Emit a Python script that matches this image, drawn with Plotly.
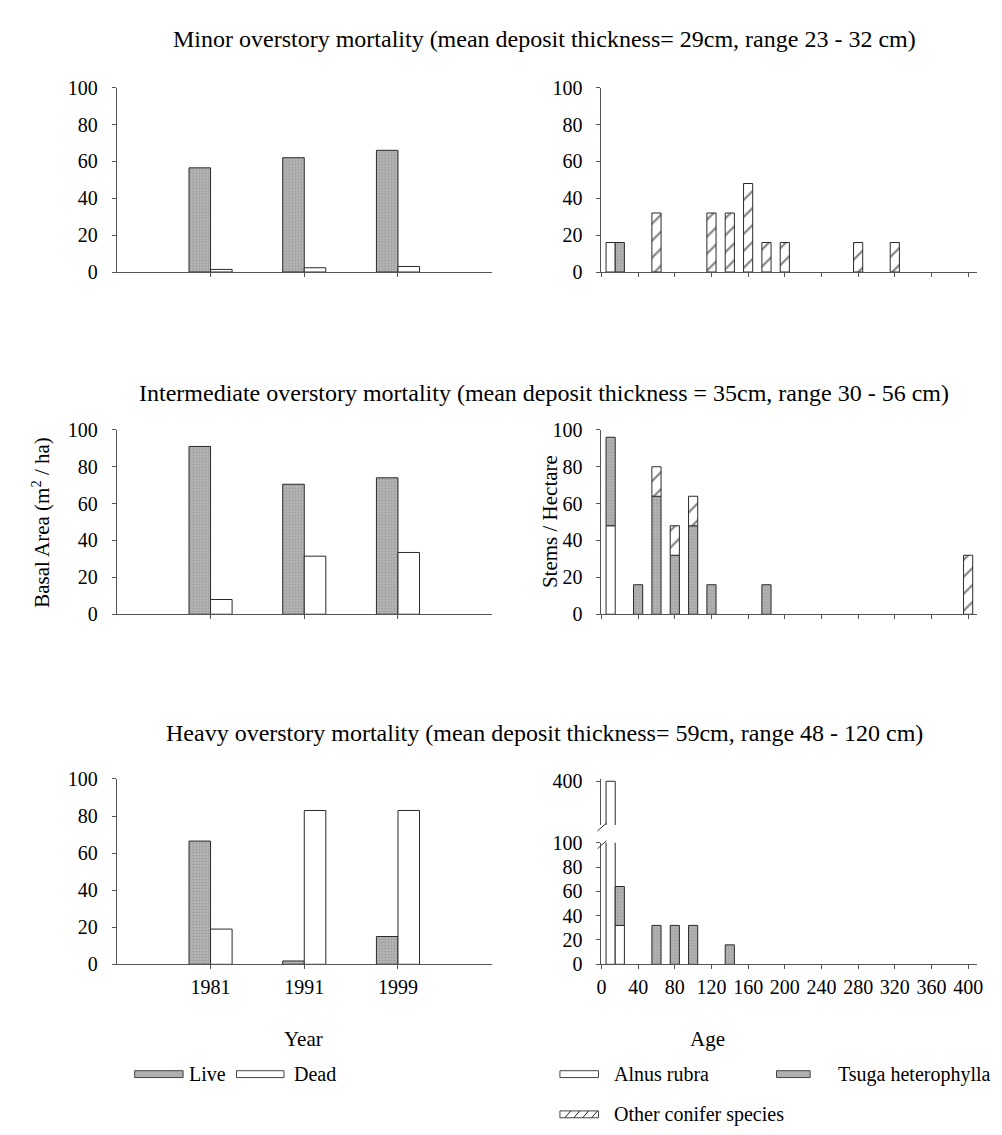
import plotly.graph_objects as go

# ---------------- data ----------------
years = ["1981", "1991", "1999"]
year_pos = [1, 2, 3]
minor_live = [56.5, 62, 66]
minor_dead = [1.4, 2.3, 3]
inter_live = [91, 70.5, 74]
inter_dead = [8, 31.5, 33.5]
heavy_live = [66.5, 1.8, 15]
heavy_dead = [19, 83, 83]

minor_ages = [10, 20, 60, 120, 140, 160, 180, 200, 280, 320]
minor_alnus = [16, 0, 0, 0, 0, 0, 0, 0, 0, 0]
minor_tsuga = [0, 16, 0, 0, 0, 0, 0, 0, 0, 0]
minor_other = [0, 0, 32, 32, 32, 48, 16, 16, 16, 16]

inter_ages = [10, 40, 60, 80, 100, 120, 180, 400]
inter_alnus = [48, 0, 0, 0, 0, 0, 0, 0]
inter_tsuga = [48, 16, 64, 32, 48, 16, 16, 0]
inter_other = [0, 0, 16, 16, 16, 0, 0, 32]

heavy_ages = [10, 20, 60, 80, 100, 140]
heavy_alnus = [400, 32, 0, 0, 0, 0]
heavy_tsuga = [0, 32, 32, 32, 32, 16]
heavy_other = [0, 0, 0, 0, 0, 0]

basal_ticks = [0, 20, 40, 60, 80, 100]
age_ticks = [0, 40, 80, 120, 160, 200, 240, 280, 320, 360, 400]

titles = [
    "Minor overstory mortality (mean deposit thickness= 29cm, range 23 - 32 cm)",
    "Intermediate overstory mortality (mean deposit thickness = 35cm, range 30 - 56 cm)",
    "Heavy overstory mortality (mean deposit thickness= 59cm, range 48 - 120 cm)",
]

# ---------------- styling helpers ----------------
W, H = 1002, 1135
FONT = "Liberation Serif, Times New Roman, serif"
LINE = dict(color="#2a2a2a", width=1)
AXC = "#555555"


def px(x):
    return x / W


def py(y):
    return 1 - y / H


GREY = dict(color="#b0b0b0", line=LINE,
            pattern=dict(shape=".", fgcolor="#7c7c7c", bgcolor="#b6b6b6", size=3, solidity=0.35))
WHITE = dict(color="white", line=LINE)
HATCH = dict(color="white", line=LINE,
             pattern=dict(shape="/", fgcolor="#000000", bgcolor="white", size=12, solidity=0.17))

fig = go.Figure()


def add_year_panel(live, dead, xa, ya):
    fig.add_trace(go.Bar(x=year_pos, y=live, width=0.23, offset=-0.23, marker=GREY,
                         xaxis=xa, yaxis=ya, name="Live"))
    fig.add_trace(go.Bar(x=year_pos, y=dead, width=0.23, offset=0.0, marker=WHITE,
                         xaxis=xa, yaxis=ya, name="Dead"))


def add_age_panel(ages, alnus, tsuga, other, xa, ya):
    series = [(alnus, WHITE, "Alnus rubra"), (tsuga, GREY, "Tsuga heterophylla"),
              (other, HATCH, "Other conifer species")]
    base = [0] * len(ages)
    for vals, mk, nm in series:
        xs, ys, bs = [], [], []
        for a, v, b in zip(ages, vals, base):
            if v > 0:
                xs.append(a)
                ys.append(v)
                bs.append(b)
        if xs:
            fig.add_trace(go.Bar(x=xs, y=ys, base=bs, width=10, marker=mk,
                                 xaxis=xa, yaxis=ya, name=nm))
        base = [b + v for b, v in zip(base, vals)]


add_year_panel(minor_live, minor_dead, "x", "y")
add_age_panel(minor_ages, minor_alnus, minor_tsuga, minor_other, "x2", "y2")
add_year_panel(inter_live, inter_dead, "x3", "y3")
add_age_panel(inter_ages, inter_alnus, inter_tsuga, inter_other, "x4", "y4")
add_year_panel(heavy_live, heavy_dead, "x5", "y5")
add_age_panel(heavy_ages, heavy_alnus, heavy_tsuga, heavy_other, "x6", "y6")
add_age_panel(heavy_ages, heavy_alnus, heavy_tsuga, heavy_other, "x6", "y7")

# ---------------- axes ----------------
LEFT_X = [px(105), px(484)]
RIGHT_X = [px(595), px(975)]
ROWS = [(70, 258), (419, 607), (775, 964)]


def ax_common():
    return dict(showline=True, linecolor=AXC, linewidth=1, ticks="outside", ticklen=4,
                tickcolor=AXC, showgrid=False, zeroline=False, fixedrange=True,
                tickfont=dict(family=FONT, size=20, color="black"))


lay = {}
for i, (top, bot) in enumerate(ROWS):
    li = 2 * i + 1
    ri = 2 * i + 2
    lx = "xaxis" if li == 1 else f"xaxis{li}"
    ly = "yaxis" if li == 1 else f"yaxis{li}"
    rx = f"xaxis{ri}"
    ry = f"yaxis{ri}"
    last = i == 2
    lay[lx] = dict(ax_common(), domain=LEFT_X, range=[0, 4], anchor=f"y{li if li > 1 else ''}",
                   tickvals=year_pos, ticktext=years, showticklabels=last, ticklabelstandoff=1)
    lay[ly] = dict(ax_common(), domain=[py(bot), py(top)], range=[0, 100],
                   anchor=f"x{li if li > 1 else ''}", tickvals=basal_ticks, ticklabelstandoff=10)
    lay[rx] = dict(ax_common(), domain=RIGHT_X, range=[0, 410], anchor=f"y{ri}",
                   tickvals=age_ticks, showticklabels=last, ticklabelstandoff=1)
    if not last:
        lay[ry] = dict(ax_common(), domain=[py(bot), py(top)], range=[0, 100],
                       anchor=f"x{ri}", tickvals=basal_ticks, ticklabelstandoff=10)

# bottom-right broken axis: lower segment 0-100, upper segment around 400
lay["yaxis6"] = dict(ax_common(), domain=[py(964), py(840)], range=[0, 100],
                     anchor="x6", tickvals=basal_ticks, ticklabelstandoff=10)
lay["yaxis7"] = dict(ax_common(), domain=[py(822), py(775)], range=[362, 402],
                     anchor="x6", tickvals=[400], ticklabelstandoff=10)

fig.update_layout(**lay)

# ---------------- annotations ----------------
ann = []


def text(t, x, y, size=21, xanchor="center", angle=0):
    ann.append(dict(text=t, x=px(x), y=py(y), xref="paper", yref="paper", showarrow=False,
                    xanchor=xanchor, yanchor="middle", textangle=angle,
                    font=dict(family=FONT, size=size, color="black")))


for t, y in zip(titles, [20, 381, 728]):
    text(t, 537, y, size=24)
text("Year", 294, 1040)
text("Age", 702, 1040)
text("Basal Area (m<sup>2</sup> / ha)", 28, 513, angle=-90)
text("Stems / Hectare", 543, 513, angle=-90)

legend_items = [
    ("Live", 123, 172, 176, 1076, "grey"),
    ("Dead", 226, 274, 282, 1076, "white"),
    ("Alnus rubra", 553, 592, 606, 1076, "white"),
    ("Tsuga heterophylla", 772, 806, 832, 1076, "grey"),
    ("Other conifer species", 553, 592, 606, 1117, "hatch"),
]
shapes = []
for label, x0, x1, tx, yc, kind in legend_items:
    fill = "#b0b0b0" if kind == "grey" else "white"
    shapes.append(dict(type="rect", xref="paper", yref="paper", x0=px(x0), x1=px(x1),
                       y0=py(yc + 3.5), y1=py(yc - 3.5), fillcolor=fill,
                       line=dict(color="#444", width=1)))
    if kind == "hatch":
        for k in range(4):
            sx = x0 + 5 + k * 9
            shapes.append(dict(type="line", xref="paper", yref="paper", x0=px(sx), x1=px(sx + 6),
                               y0=py(yc + 3.5), y1=py(yc - 3.5), line=dict(color="#222", width=1)))
    text(label, tx, yc, size=20, xanchor="left")

# break marks on the bottom-right y axis
for yb in (824, 842):
    shapes.append(dict(type="line", xref="paper", yref="paper", x0=px(591), x1=px(600),
                       y0=py(yb + 4), y1=py(yb - 4), line=dict(color="#333", width=1)))

fig.update_layout(
    width=W, height=H, margin=dict(l=0, r=0, t=0, b=0),
    paper_bgcolor="white", plot_bgcolor="white",
    barmode="overlay", showlegend=False,
    font=dict(family=FONT, size=20, color="black"),
    annotations=ann, shapes=shapes,
)

fig.write_html("out.html")
